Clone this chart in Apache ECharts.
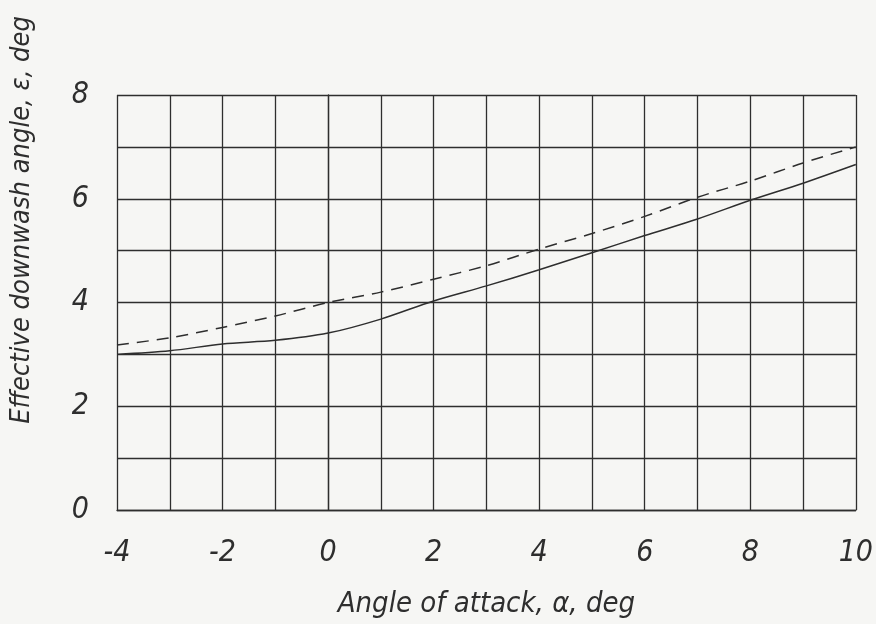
<!DOCTYPE html>
<html>
<head>
<meta charset="utf-8">
<script src="https://cdn.jsdelivr.net/npm/echarts@6/dist/echarts.min.js"></script>
<style>
  html, body { margin: 0; padding: 0; background: #f6f6f4; }
  #chart { width: 876px; height: 624px; }
</style>
</head>
<body>
<div id="chart"></div>
<script>
// angle of attack, deg
const alpha = [-4, -3, -2, -1, 0, 1, 2, 3, 4, 5, 6, 7, 8, 9, 10];
// effective downwash, solid curve
const epsSolid = [3.00, 3.07, 3.20, 3.27, 3.41, 3.68, 4.03, 4.32, 4.63, 4.96, 5.29, 5.61, 5.97, 6.30, 6.66];
// effective downwash, dashed curve
const epsDashed = [3.18, 3.32, 3.52, 3.74, 4.00, 4.20, 4.45, 4.71, 5.03, 5.33, 5.66, 6.03, 6.34, 6.69, 7.00];
const xTickLabels = ['-4', '-2', '0', '2', '4', '6', '8', '10'];
const yTickLabels = ['0', '2', '4', '6', '8'];

const ink = '#2e2e2e';
const font = '"DejaVu Sans Condensed", "DejaVu Sans", sans-serif';

const chart = echarts.init(document.getElementById('chart'));

const pairs = arr => alpha.map((a, i) => [a, arr[i]]);

chart.setOption({
  backgroundColor: '#f6f6f4',
  animation: false,
  grid: { left: 117, right: 18, top: 95, bottom: 111 },
  xAxis: {
    type: 'value',
    min: -4,
    max: 10,
    interval: 1,
    name: 'Angle of attack, α, deg',
    nameLocation: 'middle',
    nameGap: 80,
    nameTextStyle: { fontFamily: font, fontStyle: 'italic', fontWeight: 'lighter', fontSize: 29, color: ink },
    axisLine: { show: true, lineStyle: { color: ink, width: 1.3 } },
    axisTick: { show: false },
    splitLine: { show: true, lineStyle: { color: ink, width: 1.3 } },
    axisLabel: {
      margin: 28,
      fontFamily: font, fontStyle: 'italic', fontWeight: 'lighter', fontSize: 30, color: ink,
      formatter: v => xTickLabels.includes(String(v)) ? String(v) : ''
    }
  },
  yAxis: {
    type: 'value',
    min: 0,
    max: 8,
    interval: 1,
    axisLine: { show: true, lineStyle: { color: ink, width: 1.3 } },
    axisTick: { show: false },
    splitLine: { show: true, lineStyle: { color: ink, width: 1.3 } },
    axisLabel: {
      margin: 28,
      padding: [10, 0, 0, 0],
      fontFamily: font, fontStyle: 'italic', fontWeight: 'lighter', fontSize: 30, color: ink,
      formatter: v => yTickLabels.includes(String(v)) ? String(v) : ''
    }
  },
  graphic: [{
    type: 'text',
    x: 22,
    y: 220,
    rotation: Math.PI / 2,
    style: {
      text: 'Effective downwash angle, ε, deg',
      fontFamily: font, fontStyle: 'italic', fontWeight: 'lighter', fontSize: 27,
      fill: ink,
      textAlign: 'center',
      textVerticalAlign: 'middle'
    }
  }],
  series: [
    {
      type: 'line',
      data: pairs(epsSolid),
      smooth: 0.3,
      symbol: 'none',
      lineStyle: { color: ink, width: 1.5 }
    },
    {
      type: 'line',
      data: pairs(epsDashed),
      smooth: 0.3,
      symbol: 'none',
      lineStyle: { color: ink, width: 1.5, type: [12, 8] }
    }
  ]
});
</script>
</body>
</html>
